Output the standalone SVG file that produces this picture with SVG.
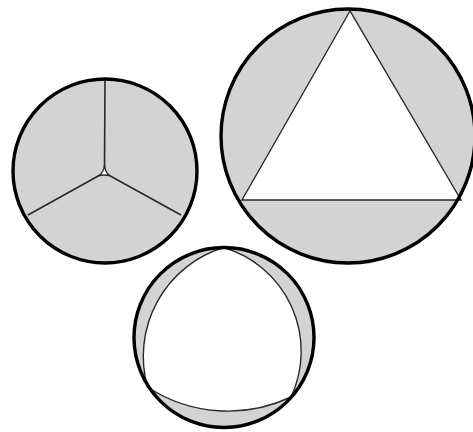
<svg xmlns="http://www.w3.org/2000/svg" width="473" height="432" viewBox="0 0 473 432">
<style>
.bg{fill:#ffffff}
.gray{fill:#d3d3d3;stroke:none}
.rim{fill:none;stroke:#000;stroke-width:3.4}
.inner{stroke:#2a2a2a;stroke-width:1.6;fill:none}
.white{fill:#ffffff;stroke:#2a2a2a;stroke-width:1.4}
</style>
<rect class="bg" x="0" y="0" width="473" height="432"/>
<g id="circle-three-spokes">
  <circle class="gray" cx="105" cy="171" r="92"/>
  <path class="inner" d="M105 79 L104.5 167 M28 215 L100 175 M181 215 L108.5 175"/>
  <path class="white" d="M104.5 165 Q104 172 99 175.5 Q104 174.5 109.5 175.5 Q105 172 104.5 165 Z"/>
  <circle class="rim" cx="105" cy="171" r="92"/>
</g>
<g id="circle-triangle">
  <circle class="gray" cx="348" cy="136" r="127"/>
  <polygon class="white" points="350,11 242,200 461,200"/>
  <circle class="rim" cx="348" cy="136" r="127"/>
</g>
<g id="circle-reuleaux">
  <circle class="gray" cx="224" cy="337.5" r="90"/>
  <path class="white" d="M223.5 247.5 A114 114 0 0 0 147.5 387 A147 147 0 0 0 291 397 A108 108 0 0 0 223.5 247.5 Z"/>
  <circle class="rim" cx="224" cy="337.5" r="90"/>
</g>
</svg>
